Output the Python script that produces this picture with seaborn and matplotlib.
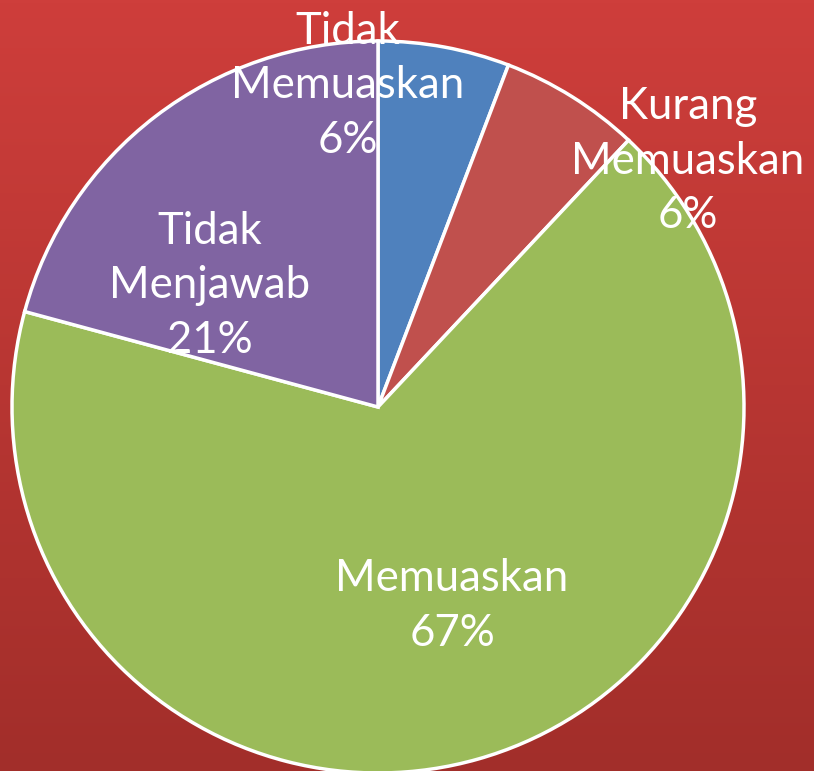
import numpy as np
import matplotlib
matplotlib.use("Agg")
import matplotlib.pyplot as plt
import seaborn as sns

categories = ["Tidak\nMemuaskan", "Kurang\nMemuaskan", "Memuaskan", "Tidak\nMenjawab"]
values = [5.8, 6.2, 67.2, 20.8]
pct_labels = ["6%", "6%", "67%", "21%"]
colors = ["#4F81BD", "#C0504D", "#9BBB59", "#8064A2"]

sns.set_theme(style="white")
plt.rcParams["font.family"] = ["Lato", "DejaVu Sans"]

W, H = 814, 771
cx, cy, r = 378, 407, 366

fig = plt.figure(figsize=(W / 100, H / 100), dpi=100)
ax = fig.add_axes([0, 0, 1, 1])

wedges, _ = ax.pie(values, colors=colors, startangle=90, counterclock=False,
                   radius=1.0, center=(0, 0),
                   wedgeprops=dict(edgecolor="white", linewidth=2.5))

x0, x1 = -cx / r, (W - cx) / r
y0, y1 = -(H - cy) / r, cy / r
ax.set_xlim(x0, x1)
ax.set_ylim(y0, y1)
ax.set_aspect("auto")
ax.axis("off")

# red gradient background
grad = np.linspace(0, 1, 256).reshape(-1, 1)
top = np.array([0xCE, 0x3E, 0x3B]) / 255
bot = np.array([0xA2, 0x2E, 0x2A]) / 255
img = top + (bot - top) * grad[..., None]
ax.imshow(img, extent=(x0, x1, y0, y1), aspect="auto", zorder=-1, origin="upper")

# label positions in pixels (centre of text block)
label_px = [(348, 86), (688, 161), (452, 606), (210, 286)]
for (px, py), cat, pct in zip(label_px, categories, pct_labels):
    ax.text((px - cx) / r, (cy - py) / r, cat + "\n" + pct, color="white",
            fontsize=31.5, ha="center", va="center", linespacing=1.42, zorder=5)

fig.savefig("out.png", dpi=100)
